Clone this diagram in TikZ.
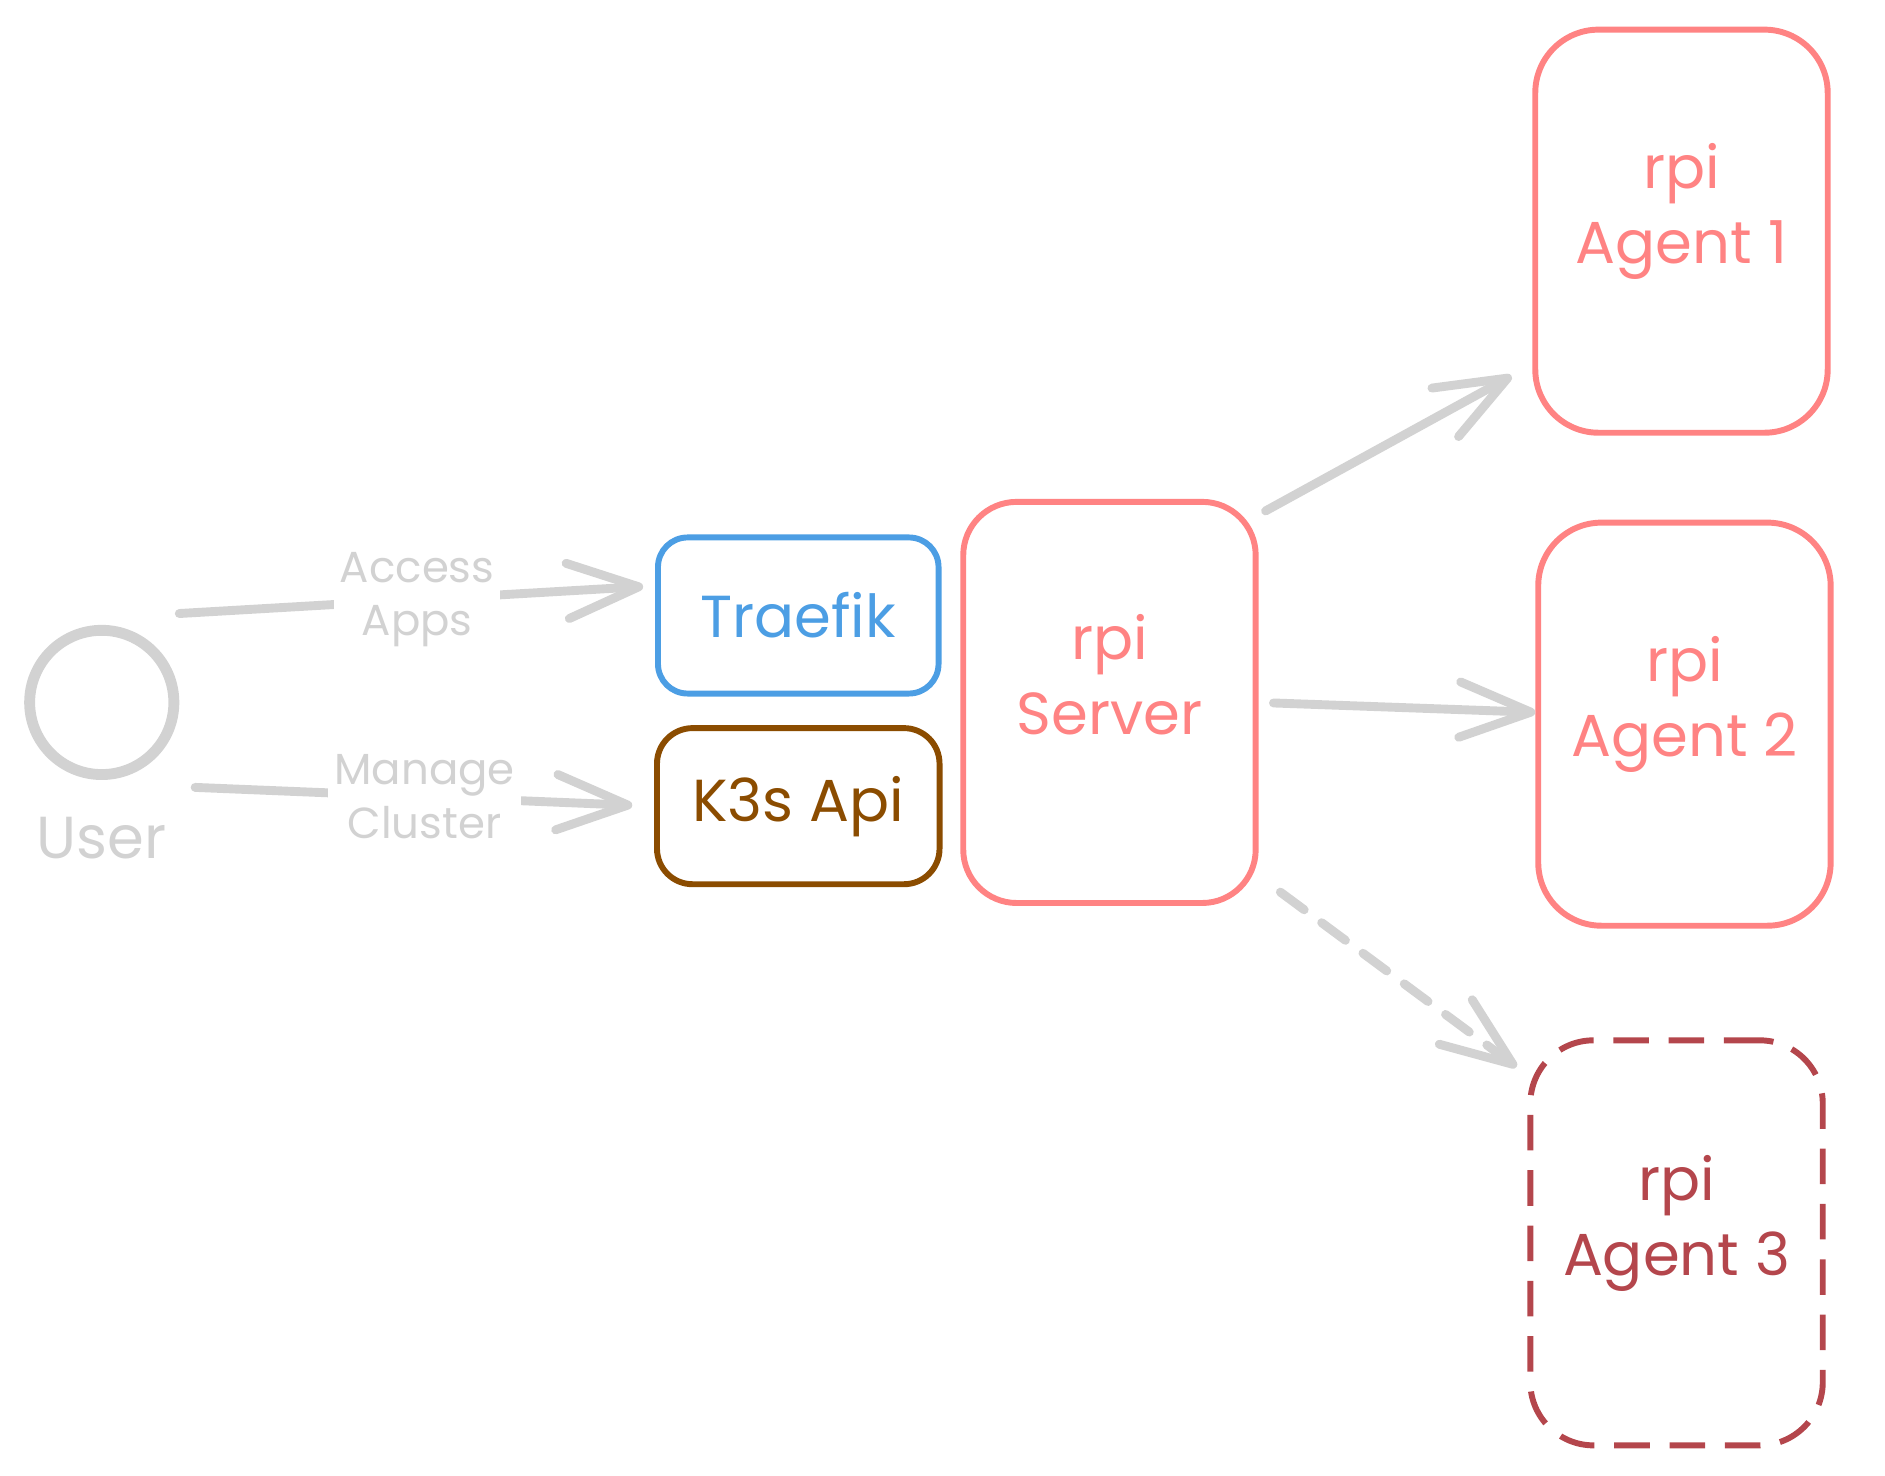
\documentclass[tikz,border=0pt]{standalone}
\usepackage{fontspec}
\setmainfont{Poppins}
\usetikzlibrary{arrows.meta}

\definecolor{linegray}{RGB}{210,210,210}
\definecolor{traefikblue}{RGB}{76,158,228}
\definecolor{k3sbrown}{RGB}{139,76,0}
\definecolor{rpipink}{RGB}{255,131,131}
\definecolor{rpidark}{RGB}{180,70,76}

\tikzset{
  box/.style={draw, line width=3pt, align=center, font=\fontsize{30}{38}\selectfont},
  rpibox/.style={box, text depth=28pt},
  link/.style={draw=linegray, line width=4.5pt, line cap=round, -{Straight Barb[length=36pt,width=28pt,round]}},
  edgelabel/.style={midway, fill=white, text=linegray, align=center, inner sep=3pt, font=\fontsize{22}{27}\selectfont}
}

\begin{document}
\begin{tikzpicture}[x=0.5pt,y=0.5pt,yscale=-1,xscale=1]
\useasboundingbox (0,0) rectangle (1908,1494);

%Shape: Circle
\node (user) at (103,711) [circle, draw=linegray, line width=5.5pt, minimum size=73pt] {};
% Text Node
\node (userlabel) at (103,848) [text=linegray, font=\fontsize{30}{36}\selectfont] {User};

%Rounded Rect
\node (traefik) at (808,623) [box, draw=traefikblue, text=traefikblue, rounded corners=15pt, minimum width=142pt, minimum height=79pt] {Traefik};
%Rounded Rect
\node (k3s) at (808,816) [box, draw=k3sbrown, text=k3sbrown, rounded corners=18pt, minimum width=143pt, minimum height=79pt] {K3s Api};
%Rounded Rect
\node (server) at (1123,711) [rpibox, draw=rpipink, text=rpipink, rounded corners=27pt, minimum width=148pt, minimum height=203pt] {rpi\\Server};
%Rounded Rect
\node (agent1) at (1702,234) [rpibox, draw=rpipink, text=rpipink, rounded corners=32pt, minimum width=148pt, minimum height=204pt] {rpi\\Agent 1};
%Rounded Rect
\node (agent2) at (1705,733) [rpibox, draw=rpipink, text=rpipink, rounded corners=32pt, minimum width=148pt, minimum height=204pt] {rpi\\Agent 2};
%Rounded Rect
\node (agent3) at (1697,1258) [rpibox, draw=rpidark, text=rpidark, dash pattern=on 18pt off 10pt, rounded corners=32pt, minimum width=148pt, minimum height=205pt] {rpi\\Agent 3};

%Straight Lines
\draw [link, shorten >=6pt] ([yshift=-45pt]user.east) -- ([yshift=-15pt]traefik.west) node [edgelabel] {Access\\Apps};
%Straight Lines
\draw [link, shorten >=11pt] ([shift={(8pt,43pt)}]user.east) -- (k3s.west) node [edgelabel] {Manage\\Cluster};
%Straight Lines
\draw [link, shorten <=4pt, shorten >=12pt] ([yshift=8pt]server.north east) -- ([yshift=-36pt]agent1.south west);
%Straight Lines
\draw [link, shorten <=7.5pt] (server.east) -- ([yshift=-6pt]agent2.west);
%Straight Lines
\draw [link, dash pattern=on 15pt off 11pt] ([shift={(11pt,-7pt)}]server.south east) -- ([shift={(-5.5pt,15pt)}]agent3.north west);

\end{tikzpicture}
\end{document}
